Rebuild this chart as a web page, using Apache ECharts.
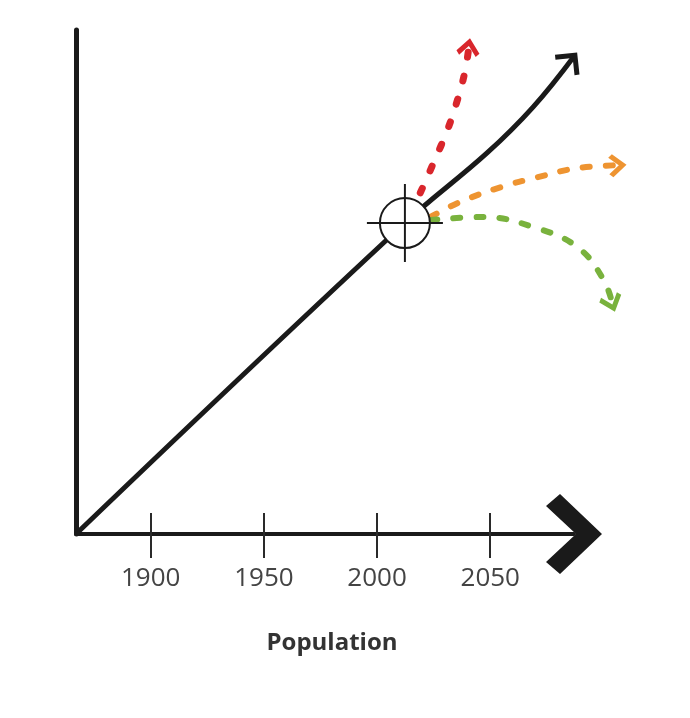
<!DOCTYPE html>
<html>
<head>
<meta charset="utf-8">
<title>Population</title>
<script src="https://cdn.jsdelivr.net/npm/echarts@6/dist/echarts.min.js"></script>
<style>
  html, body { margin: 0; padding: 0; background: #fff; }
  #main { width: 690px; height: 718px; }
</style>
</head>
<body>
<div id="main"></div>
<script>
// x = year, y = population (no units in the picture, 0..100 scale)
var tickYears = [1900, 1950, 2000, 2050];
var pastTrend = [[1867, 0], [2012.3, 61.7], [2048.6, 75.6], [2068.9, 84.7], [2087.4, 95.0]];
var highScenario = [[2019.1, 67.7], [2024.9, 73.6], [2031.1, 80.2], [2035.5, 86.1], [2039.0, 92.1], [2040.8, 97.6]];
var midScenario = [[2023.6, 62.9], [2036.8, 65.9], [2054.5, 68.8], [2070.9, 70.8], [2088.6, 72.6], [2108.5, 73.2]];
var lowScenario = [[2023.6, 62.3], [2047.0, 62.9], [2069.1, 60.9], [2088.6, 56.9], [2100.1, 50.4], [2104.5, 44.8]];
var todayPoint = [[2012.3, 61.7]];

var curves = [
    {name: 'trend', data: pastTrend, color: '#1a1a1a', dash: 'solid', width: 5, head: [28, 28]},
    {name: 'high', data: highScenario, color: '#d9262c', dash: [5, 19], width: 7, head: [24, 20]},
    {name: 'mid', data: midScenario, color: '#ee9431', dash: [7, 16], width: 6, head: [24, 20]},
    {name: 'low', data: lowScenario, color: '#79b23d', dash: [7, 16], width: 6, head: [24, 20]}
];

var chevron = 'path://M0,0 L12,12 L0,24 M24,12 L24,12';
var bigChevron = 'path://M40,0 L80,42 L68,56 L40,26 L12,56 L0,42 Z';

var chart = echarts.init(document.getElementById('main'));

// curves live on a second, wider grid with the same scale, so they can run past the axis arrow
var series = curves.map(function (c) {
    return {
        type: 'line',
        name: c.name,
        xAxisIndex: 2, yAxisIndex: 1,
        data: c.data,
        smooth: 0.4,
        symbol: 'none',
        clip: false,
        silent: true,
        z: 2,
        lineStyle: {color: c.color, width: c.width, type: c.dash, cap: c.dash === 'solid' ? 'butt' : 'round'}
    };
});

// marker: white circle + crosshair
series.push({
    type: 'scatter', xAxisIndex: 2, yAxisIndex: 1, data: todayPoint, symbol: 'circle', symbolSize: 50, z: 4, silent: true,
    itemStyle: {color: '#fff', borderColor: '#1a1a1a', borderWidth: 2, opacity: 1}
});
series.push({
    type: 'scatter', xAxisIndex: 2, yAxisIndex: 1, data: todayPoint, symbol: 'path://M0,39 L76,39 M38,0 L38,78',
    symbolSize: [76, 78], z: 5, silent: true,
    itemStyle: {color: 'transparent', borderColor: '#1a1a1a', borderWidth: 2, opacity: 1}
});
// arrow heads
function heads(withAngle) {
    return curves.map(function (c) {
        return {value: c.data[c.data.length - 1], symbolSize: c.head,
            symbolRotate: withAngle ? headAngle(c.data) : 0,
            itemStyle: {color: 'transparent', borderColor: c.color, borderWidth: 5, opacity: 1}};
    });
}
series.push({
    id: 'heads', type: 'scatter', xAxisIndex: 2, yAxisIndex: 1, symbol: chevron, z: 6, silent: true, clip: false,
    data: heads(false)
});

var hidden = {show: false};
chart.setOption({
    animation: false,
    backgroundColor: '#fff',
    grid: [
        {left: 76, right: 116, top: 30, bottom: 184},
        {left: 76, right: 41.3, top: 30, bottom: 184}
    ],
    xAxis: [{
        type: 'value', gridIndex: 0, min: 1867, max: 2087,
        name: 'Population', nameLocation: 'middle', nameGap: 97,
        nameTextStyle: {fontFamily: 'Open Sans', fontWeight: 'bold', fontSize: 24, color: '#333', padding: [0, 0, 0, 14]},
        axisLine: {show: true, lineStyle: {color: '#1a1a1a', width: 4}, symbol: ['none', bigChevron], symbolSize: [80, 56]},
        axisTick: {show: true, length: 24, lineStyle: {color: '#2a2a2a', width: 2}, customValues: tickYears},
        axisLabel: {show: true, margin: 32, fontFamily: 'Open Sans', fontSize: 26, color: '#444',
            customValues: tickYears, formatter: function (v) { return String(v); }},
        splitLine: hidden
    }, {
        type: 'value', gridIndex: 0, min: 1867, max: 2087, position: 'bottom',
        axisLine: hidden,
        axisTick: {show: true, inside: true, length: 21, lineStyle: {color: '#2a2a2a', width: 2}, customValues: tickYears},
        axisLabel: hidden, splitLine: hidden
    }, {
        type: 'value', gridIndex: 1, min: 1867, max: 2120,
        axisLine: hidden, axisTick: hidden, axisLabel: hidden, splitLine: hidden
    }],
    yAxis: [{
        type: 'value', gridIndex: 0, min: 0, max: 100,
        axisLine: {show: true, lineStyle: {color: '#1a1a1a', width: 5}},
        axisTick: hidden, axisLabel: hidden, splitLine: hidden
    }, {
        type: 'value', gridIndex: 1, min: 0, max: 100,
        axisLine: hidden, axisTick: hidden, axisLabel: hidden, splitLine: hidden
    }],
    series: series
});

// point each arrow head along the last stretch of its curve
function headAngle(pts) {
    var a = chart.convertToPixel({seriesIndex: 0}, pts[pts.length - 2]);
    var b = chart.convertToPixel({seriesIndex: 0}, pts[pts.length - 1]);
    return Math.atan2(a[1] - b[1], b[0] - a[0]) * 180 / Math.PI;
}
chart.setOption({series: [{id: 'heads', data: heads(true)}]});
</script>
</body>
</html>
